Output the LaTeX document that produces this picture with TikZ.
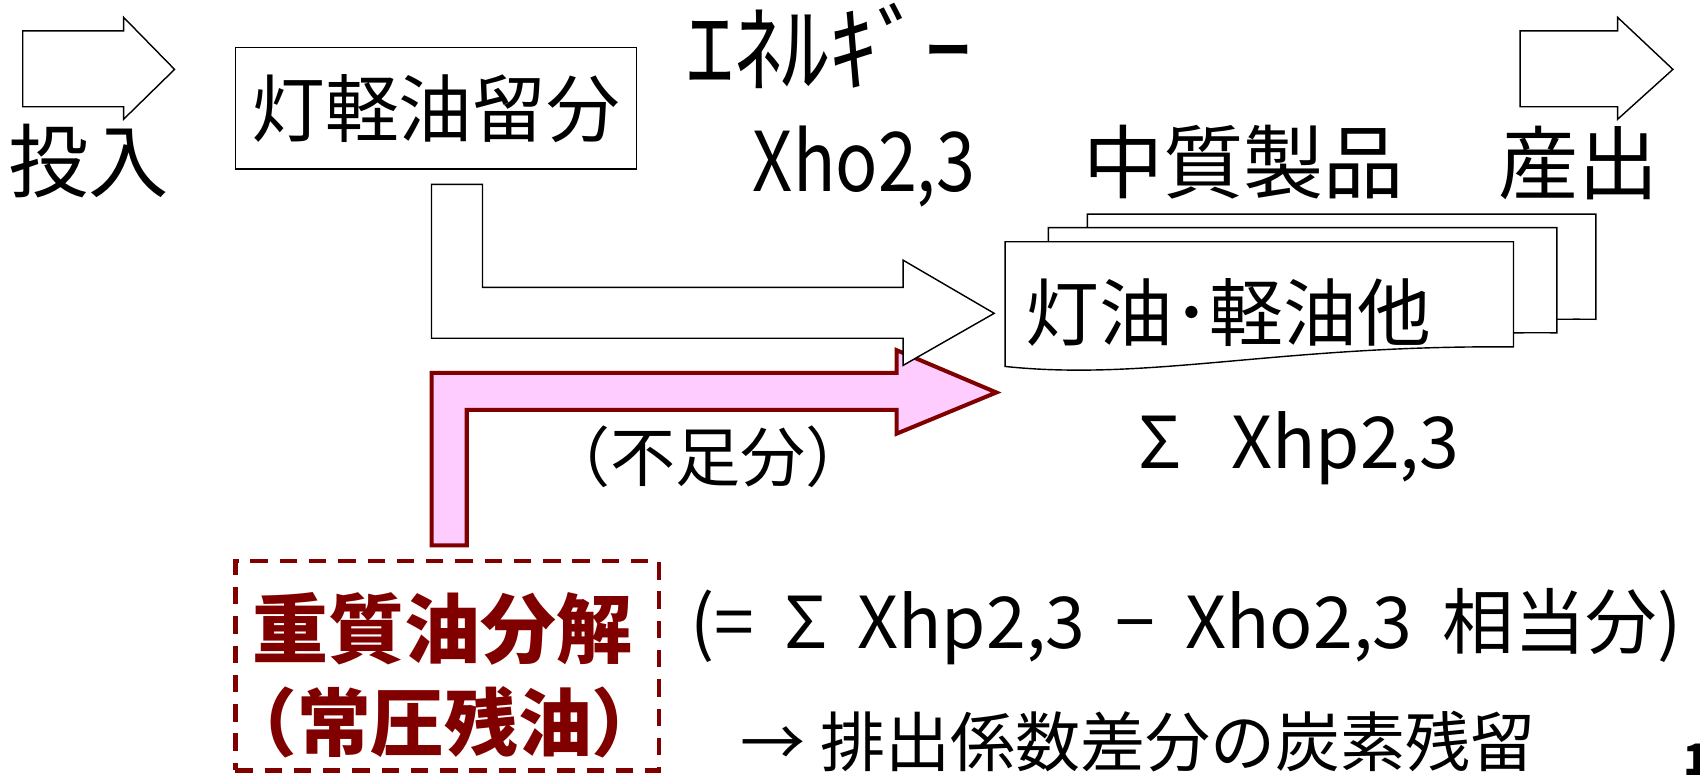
\documentclass[tikz,border=0pt]{standalone}
\usepackage{graphicx}
\usepackage{fontspec}
\setmainfont{Noto Sans CJK JP}
\definecolor{dred}{HTML}{800000}
\definecolor{pinkf}{HTML}{FFCCFF}
\newcommand\fs[1]{\fontsize{#1}{#1}\selectfont}
\newcommand\wsp{\hspace{0.42em}}
\begin{document}
\begin{tikzpicture}[x=1pt,y=-1pt,
  outl/.style={draw=black,line width=1.3pt,fill=white,line join=miter},
  lbl/.style={inner sep=0pt,outer sep=0pt,text=black},
  redlbl/.style={inner sep=0pt,outer sep=0pt,text=dred,font=\bfseries},
]
\useasboundingbox (0,0) rectangle (1568,714);
% input / output block arrows
\draw[outl] (21,28.5) -- (114,28.5) -- (114,16) -- (161,64) -- (114,110) -- (114,98.5) -- (21,98.5) -- cycle;
\draw[outl] (1402,28.5) -- (1492,28.5) -- (1492,16) -- (1543,64) -- (1492,110) -- (1492,98.5) -- (1402,98.5) -- cycle;
\node[lbl,font=\fs{74}] (tounyu) at (82,148.5) {投入};
\node[lbl,font=\fs{74}] (sanshutsu) at (1456,150) {産出};
% kerosene/gas oil fraction box
\node[draw=black,line width=1.3pt,fill=white,minimum width=370pt,minimum height=112pt,inner sep=0pt,font=\fs{68}] (frac) at (402,100) {灯軽油留分};
\node[lbl,font=\fs{88}] (ene) at (765,42) {ｴﾈﾙｷﾞｰ};
\node[lbl,font=\fs{76}] (xho) at (797,154) {\scalebox{0.85}[1]{Xho2,3}};
\node[lbl,font=\fs{74}] (chushitsu) at (1147,150) {中質製品};
% stacked document shapes
\foreach \dx/\dy in {76/-25.5,40/-13,0/0}
  \draw[outl,shift={(\dx,\dy)}] (927,223) -- (1396,223) -- (1396,320) .. controls (1180,318) and (1060,352) .. (927,338) -- cycle;
\node[lbl,font=\fs{68}] (prod) at (1133,288) {灯油･軽油他};
\node[lbl,font=\fs{66}] (xhp) at (1198,413) {Σ\hspace{0.7em}Xhp2,3};
% pink L arrow (shortfall)
\draw[draw=dred,fill=pinkf,line width=3.7pt,line join=miter] (398,503) -- (398,344) -- (827,344) -- (827,323) -- (919,362) -- (827,400) -- (827,378) -- (430.5,378) -- (430.5,503) -- cycle;
% white L arrow from fraction
\draw[outl] (398,170) -- (445,170) -- (445,265) -- (833,265) -- (833,240) -- (917,289) -- (833,337) -- (833,312) -- (398,312) -- cycle;
\node[lbl,font=\fs{60}] (fusoku) at (653,421) {（不足分）};
% heavy oil cracking
\node[draw=dred,line width=4.2pt,dash pattern=on 16pt off 11pt,minimum width=391pt,minimum height=193pt,inner sep=0pt] (heavy) at (412.5,614) {};
\node[redlbl,font=\fs{70}\bfseries] (heavy1) at (408,580) {重質油分解};
\node[redlbl,font=\fs{68}\bfseries] (heavy2) at (410,666) {（常圧残油）};
\node[lbl,font=\fs{66}] (formula) at (1094,578) {(=\wsp Σ\wsp Xhp2,3\wsp −\wsp Xho2,3\wsp 相当分)};
\node[lbl,font=\fs{60}] (carbon) at (1050,684) {→ 排出係数差分の炭素残留};
\node[lbl,font=\fs{40}\bfseries,anchor=north west] (pagenum) at (1553,686) {1};
\end{tikzpicture}
\end{document}
